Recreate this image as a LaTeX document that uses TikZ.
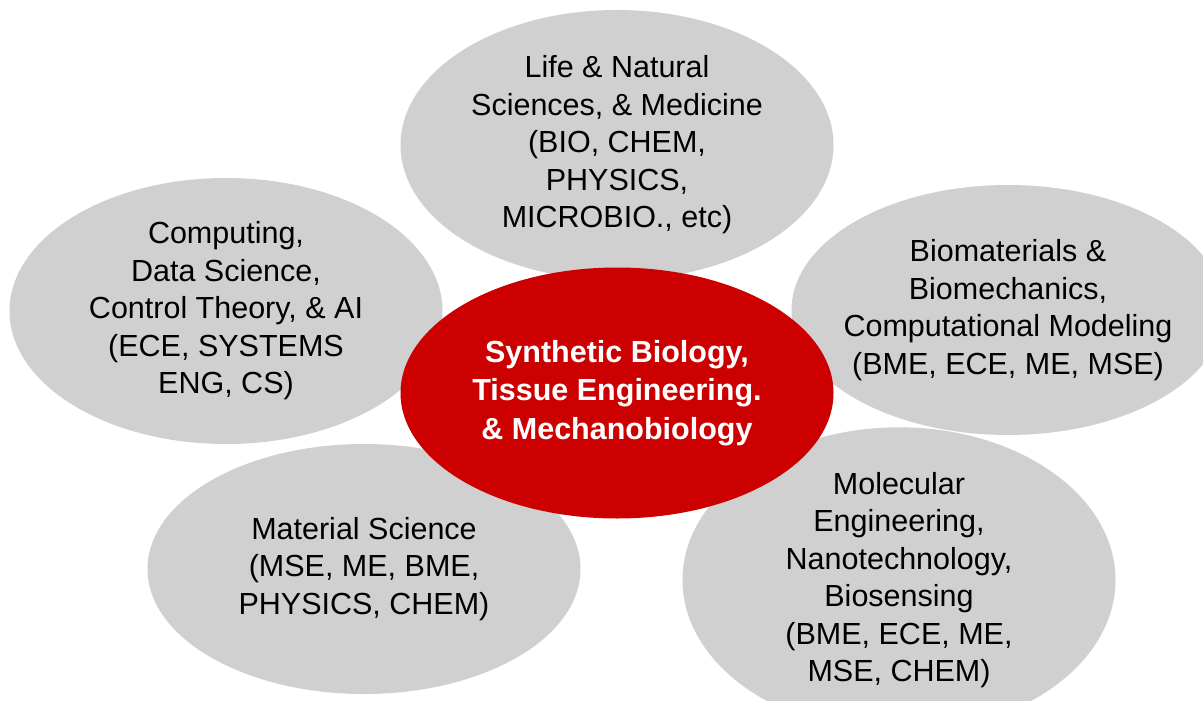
\documentclass[tikz,border=0pt]{standalone}
\usepackage{fontspec}
\setmainfont{Liberation Sans}
\usetikzlibrary{shapes.geometric}

\definecolor{fieldgray}{RGB}{208,208,208}
\definecolor{hubred}{RGB}{204,0,0}

\begin{document}
\begin{tikzpicture}[x=1pt,y=-1pt]
        \tikzstyle{every node}=[font=\fontsize{30.5}{37.5}\selectfont, align=center, inner sep=0pt]
        \tikzstyle{field}=[ellipse, fill=fieldgray, minimum width=433pt, minimum height=250pt]
        \tikzstyle{hub}=[ellipse, fill=hubred, text=white, minimum width=433pt, minimum height=251pt,
            font=\fontsize{30.5}{38.5}\selectfont\bfseries]

        \useasboundingbox (0,0) rectangle (1203,701);

        % surrounding disciplines
        \node[field, minimum height=270pt] (life) at (617,145)
            {Life \& Natural\\Sciences, \& Medicine\\(BIO, CHEM,\\PHYSICS,\\MICROBIO., etc)};
        \node[field, minimum height=266pt] (computing) at (226,311)
            {Computing,\\Data Science,\\Control Theory, \& AI\\(ECE, SYSTEMS\\ENG, CS)};
        \node[field, inner xsep=-16pt] (biomaterials) at (1008,310)
            {Biomaterials \&\\Biomechanics,\\Computational Modeling\\(BME, ECE, ME, MSE)};
        \node[field] (material) at (364,569)
            {Material Science\\(MSE, ME, BME,\\PHYSICS, CHEM)};
        \node[field, minimum height=270pt] (molecular) at (899,580)
            {Molecular\\Engineering,\\Nanotechnology,\\Biosensing\\(BME, ECE, ME,\\MSE, CHEM)};

        % core area on top
        \node[hub] (core) at (617,393)
            {Synthetic Biology,\\Tissue Engineering.\\\& Mechanobiology};
\end{tikzpicture}
\end{document}
